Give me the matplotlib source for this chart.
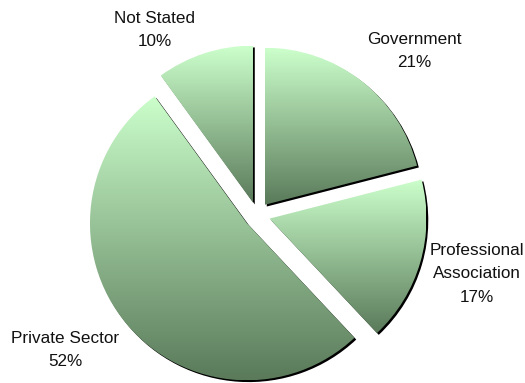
import matplotlib
matplotlib.use("Agg")
import matplotlib.pyplot as plt
import numpy as np
from matplotlib.patches import Wedge
from matplotlib.colors import LinearSegmentedColormap

sectors = ["Government", "Professional\nAssociation", "Private Sector", "Not Stated"]
shares = [21, 17, 52, 10]
# label anchor (x centre, baseline of first line), in pixels from the top-left
label_pos = [(414, 44), (477, 255), (65, 343), (155, 23)]

W, H = 525, 383
fig = plt.figure(figsize=(W / 100, H / 100), dpi=100)
ax = fig.add_axes([0, 0, 1, 1])

cx, cy, r = 257, H - 215, 157
# explode is an absolute offset here (data units = pixels)
wedges, _ = ax.pie(shares, startangle=90, counterclock=False,
                   explode=[13] * len(shares), radius=r, center=(cx, cy),
                   frame=True, wedgeprops=dict(linewidth=0))

cmap = LinearSegmentedColormap.from_list("grn", ["#5a7a5a", "#ccffcc"])
grad = np.linspace(0, 1, 256).reshape(-1, 1)

for w in wedges:
    # dark drop shadow behind each slice
    sx, sy = w.center
    sh = Wedge((sx + 1.8, sy - 1.8), w.r, w.theta1, w.theta2,
               facecolor="black", edgecolor="none", zorder=1)
    ax.add_patch(sh)
    w.set_facecolor("none")
    w.set_zorder(3)
    ext = w.get_path().get_extents()
    im = ax.imshow(grad, cmap=cmap, origin="lower", aspect="auto",
                   extent=(ext.x0, ext.x1, ext.y0, ext.y1), zorder=2,
                   interpolation="bilinear")
    im.set_clip_path(w)

for name, val, (lx, ly) in zip(sectors, shares, label_pos):
    lines = name.split("\n") + [f"{val}%"]
    for i, line in enumerate(lines):
        ax.text(lx, H - (ly + i * 23.3), line, ha="center", va="baseline",
                fontsize=12.3, family="Liberation Sans", color="#111111")

ax.set_xlim(0, W)
ax.set_ylim(0, H)
ax.set_aspect("auto")
ax.axis("off")
fig.savefig("out.png", dpi=100)
